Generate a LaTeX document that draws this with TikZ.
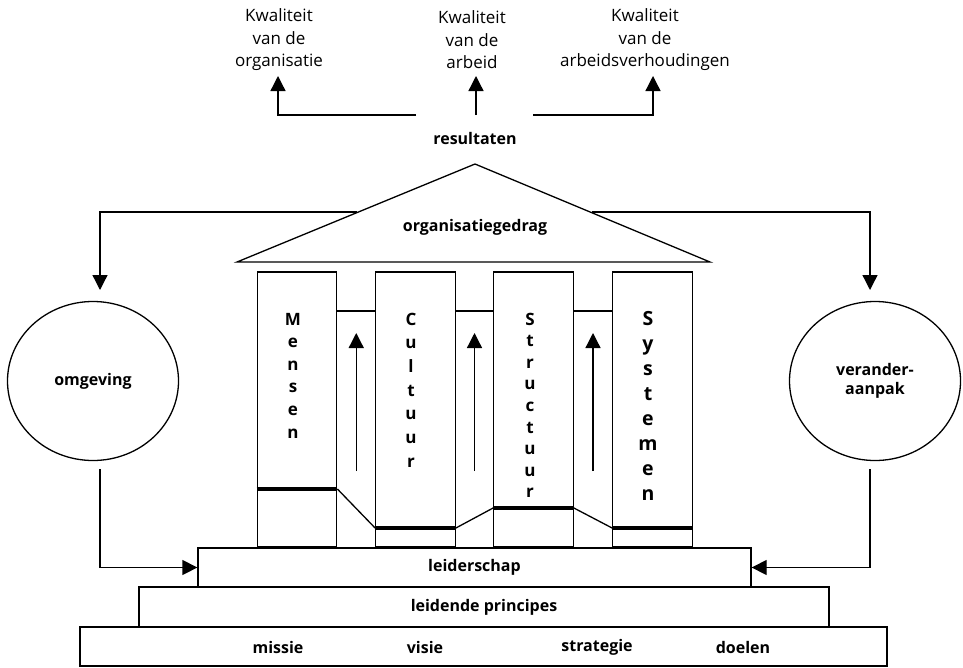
\documentclass[tikz,border=0pt]{standalone}
\usepackage{fontspec}
\setmainfont{Open Sans}
\usetikzlibrary{arrows.meta,shapes.geometric}
\tikzset{
  base line/.style={line width=1.3pt},
  flow arrow/.style={line width=1.3pt,-{Triangle[length=15pt,width=15pt]}},
  layer box/.style={draw,line width=1.3pt,inner sep=0pt,font=\bfseries\fontsize{16}{18}\selectfont},
  pillar box/.style={draw,line width=1.3pt,minimum width=79.5pt,minimum height=275pt,inner sep=0pt},
  floor bar/.style={line width=4pt},
  outcome label/.style={align=center,inner sep=0pt,font=\fontsize{17}{22.5}\selectfont},
  bold label/.style={inner sep=0pt,font=\bfseries\fontsize{16}{18}\selectfont},
  round box/.style={draw,ellipse,line width=1.3pt,minimum width=171pt,minimum height=159pt,align=center,font=\bfseries\fontsize{16}{19}\selectfont},
}
\begin{document}
\begin{tikzpicture}[x=1pt,y=-1pt]
\useasboundingbox (0,0) rectangle (963,667);
% outcomes
\node[outcome label] (q-org) at (279,40) {Kwaliteit\\van de\\organisatie};
\node[outcome label] (q-arb) at (472,40) {Kwaliteit\\van de\\arbeid};
\node[outcome label] (q-rel) at (645,40) {Kwaliteit\\van de\\arbeidsverhoudingen};
\node[bold label] (result) at (475,138) {resultaten};
\coordinate (split-l) at (416,115);
\coordinate (split-m) at (476,115);
\coordinate (split-r) at (533,115);
\coordinate (tip-org) at (278,76);
\coordinate (tip-arb) at (476,76);
\coordinate (tip-rel) at (653,76);
\draw[flow arrow] (split-l) -| (tip-org);
\draw[flow arrow] (split-m) -- (tip-arb);
\draw[flow arrow] (split-r) -| (tip-rel);
% roof
\coordinate (roof-top) at (475,164);
\coordinate (roof-l) at (237,262);
\coordinate (roof-r) at (710,262);
\draw[base line,line join=miter] (roof-l) -- (roof-top) -- (roof-r) -- cycle;
\node[bold label] (behaviour) at (475,227) {organisatiegedrag};
% side circles
\node[round box] (env) at (93,381) {omgeving};
\node[round box] (change) at (875,381) {verander-\\aanpak};
\coordinate (fb-l) at (357,212);
\coordinate (fb-r) at (592,212);
\coordinate (env-in) at (100,290);
\coordinate (env-out) at (100,469);
\coordinate (change-in) at (870,290);
\coordinate (change-out) at (870,469);
% foundation
\node[layer box,minimum width=553pt,minimum height=39pt] (lead) at (474.5,567.5) {leiderschap};
\node[layer box,minimum width=690pt,minimum height=40pt] (principles) at (484,607) {leidende principes};
\node[layer box,minimum width=807pt,minimum height=39pt] (base) at (483.5,646.5) {};
\foreach \x/\txt in {278/missie,425/visie,597/strategie,743/doelen}
  \node[bold label] at (\x,647) {\txt};
\draw[flow arrow] (fb-l) -| (env-in);
\draw[flow arrow] (fb-r) -| (change-in);
\draw[flow arrow] (env-out) |- (lead.west);
\draw[flow arrow] (change-out) |- (lead.east);
% pillars
\foreach \n/\cx/\lx/\bar/\gap/\fs/\word in {
  1/297/293/489/22.6/17/{M,e,n,s,e,n},
  2/415.5/411/528/23.7/17/{C,u,l,t,u,u,r},
  3/533.5/530/508/21.6/17/{S,t,r,u,c,t,u,u,r},
  4/652.5/648/528/25.1/19.5/{S,y,s,t,e,m,e,n}} {
  \node[pillar box] (p\n) at (\cx,409.5) {};
  \coordinate (bar\n) at (0,\bar);
  \draw[floor bar] (p\n.west |- bar\n) -- (p\n.east |- bar\n);
  \foreach \c [count=\k] in \word
    \node[anchor=base,inner sep=0pt,font=\bfseries\fontsize{\fs}{\fs}\selectfont] at (\lx,{325+(\k-1)*\gap}) {\c};
}
\coordinate (tie) at (0,311);
\coordinate (rise-lo) at (0,471);
\coordinate (rise-hi) at (0,333);
\foreach \a/\b in {1/2,2/3,3/4} {
  \draw[base line] (p\a.east |- tie) -- (p\b.west |- tie);
  \draw[base line] (p\a.east |- bar\a) -- (p\b.west |- bar\b);
  \path (p\a.east) -- (p\b.west) coordinate[midway] (gap\a);
  \draw[flow arrow] (gap\a |- rise-lo) -- (gap\a |- rise-hi);
}
\end{tikzpicture}
\end{document}
